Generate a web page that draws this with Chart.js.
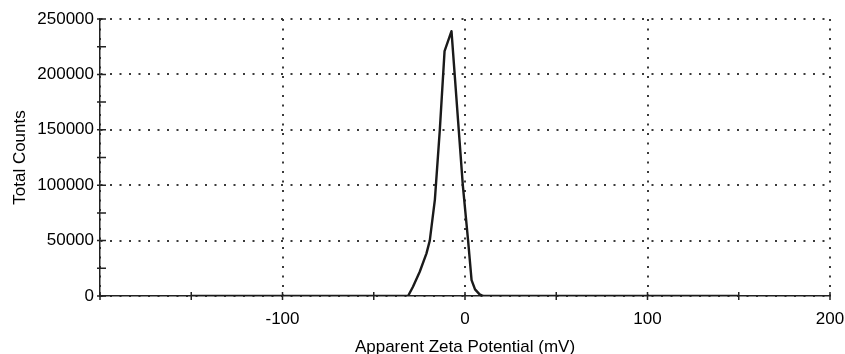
<!DOCTYPE html>
<html>
<head>
<meta charset="utf-8">
<script src="https://cdn.jsdelivr.net/npm/chart.js@4"></script>
<style>
    html, body { margin: 0; padding: 0; background: #fff; }
    #wrap { width: 845px; height: 354px; }
</style>
</head>
<body>
<div id="wrap"><canvas id="zetaChart"></canvas></div>
<script>
// --- DATA ---
const zetaMv = [-150, -100, -50, -31.2, -28.5, -24.8, -21.1, -19.3, -16.5, -13.8, -11.2, -7.4, -3.7, -1.2, 1.7, 3.6, 5.5, 8, 10, 50, 100, 150];
const totalCounts = [0, 0, 0, 0, 8400, 21900, 38500, 50000, 87000, 150000, 221000, 239000, 156000, 100000, 50000, 14400, 6000, 1500, 0, 0, 0, 0];
const xTickValues = [-200, -100, 0, 100, 200];
const xTickLabels = ['', '-100', '0', '100', '200'];
const yTickValues = [0, 50000, 100000, 150000, 200000, 250000];

// --- STYLE ---
const FONT = { family: '"Liberation Sans", Arial, sans-serif', size: 17 };
const DOTS = { color: '#3a3a3a', width: 2, dash: [2, 7.5] };

// kleine tick-streepjes op de assen (elke 50 mV en elke 25000 counts)
const minorTicks = {
    id: 'minorTicks',
    afterDraw(chart) {
        const { ctx, scales: { x, y } } = chart;
        ctx.save();
        ctx.strokeStyle = '#222';
        ctx.lineWidth = 1.5;
        ctx.beginPath();
        for (let v = -200; v <= 200; v += 50) {
            const px = x.getPixelForValue(v);
            ctx.moveTo(px, y.bottom - 4);
            ctx.lineTo(px, y.bottom + 4);
        }
        for (let v = 0; v <= 250000; v += 25000) {
            const py = y.getPixelForValue(v);
            ctx.moveTo(x.left - 3, py);
            ctx.lineTo(x.left + 6, py);
        }
        ctx.stroke();
        ctx.restore();
    }
};

// --- CHART ---
function drawChart() {
    const ctx = document.getElementById('zetaChart').getContext('2d');
    const points = zetaMv.map((v, i) => ({ x: v, y: totalCounts[i] }));

    new Chart(ctx, {
        type: 'line',
        data: {
            datasets: [{
                data: points,
                borderColor: '#1a1a1a',
                borderWidth: 2.4,
                pointRadius: 0,
                fill: false,
                tension: 0,
                borderJoinStyle: 'round'
            }]
        },
        options: {
            responsive: true,
            maintainAspectRatio: false,
            animation: false,
            layout: { padding: { top: 19, right: 15, left: 0, bottom: 0 } },
            plugins: { legend: { display: false }, tooltip: { enabled: false } },
            scales: {
                x: {
                    type: 'linear',
                    min: -200,
                    max: 200,
                    afterBuildTicks: s => { s.ticks = xTickValues.map(v => ({ value: v })); },
                    afterFit: s => { s.height = 58; s.paddingLeft = 0; s.paddingRight = 0; },
                    ticks: {
                        color: '#000',
                        font: FONT,
                        padding: 13,
                        maxRotation: 0,
                        callback: v => xTickLabels[xTickValues.indexOf(v)]
                    },
                    grid: {
                        color: DOTS.color,
                        lineWidth: DOTS.width,
                        drawTicks: false
                    },
                    border: { display: true, color: '#222', width: 1.5, dash: DOTS.dash },
                    title: {
                        display: true,
                        text: 'Apparent Zeta Potential (mV)',
                        color: '#000',
                        font: { ...FONT, lineHeight: 1 },
                        padding: { top: 0, bottom: -1.5 }
                    }
                },
                y: {
                    min: 0,
                    max: 250000,
                    afterBuildTicks: s => { s.ticks = yTickValues.map(v => ({ value: v })); },
                    afterFit: s => { s.width = 100; },
                    ticks: {
                        color: '#000',
                        font: FONT,
                        padding: 6,
                        callback: v => String(v)
                    },
                    grid: {
                        color: DOTS.color,
                        lineWidth: DOTS.width,
                        drawTicks: false
                    },
                    border: { display: true, color: '#222', width: 1.5, dash: DOTS.dash },
                    title: {
                        display: true,
                        text: 'Total Counts',
                        color: '#000',
                        font: FONT,
                        padding: { top: 10, bottom: 0 }
                    }
                }
            }
        },
        plugins: [minorTicks]
    });
}

document.addEventListener('DOMContentLoaded', drawChart);
</script>
</body>
</html>
